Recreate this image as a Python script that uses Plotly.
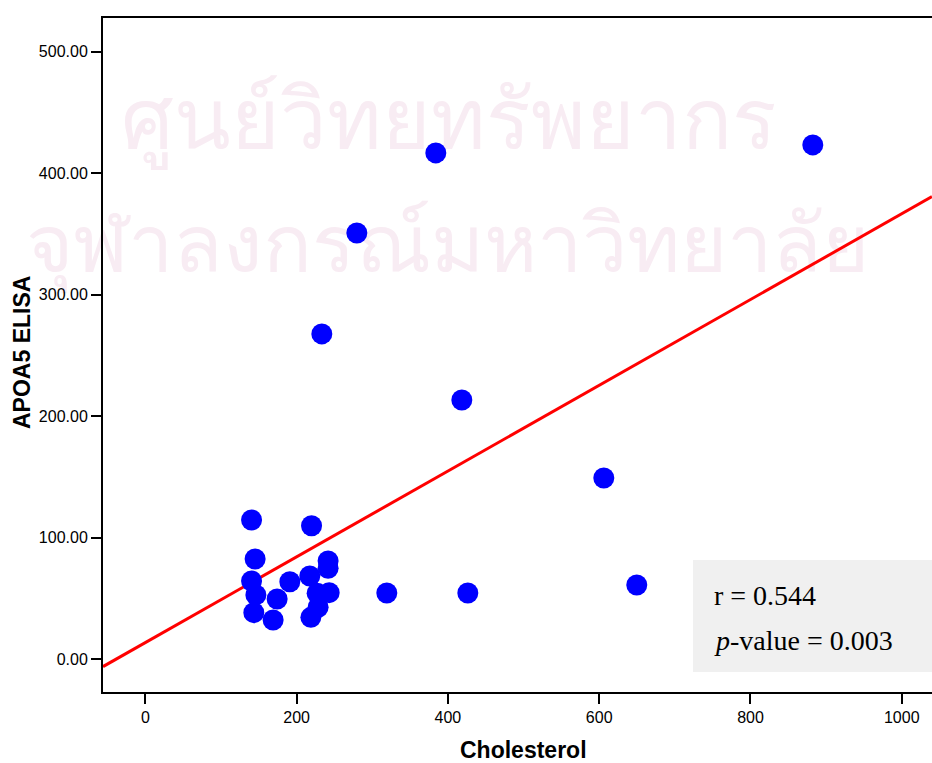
import plotly.graph_objects as go

# Data
cholesterol = [140.4, 219.7, 145.1, 140.4, 146.1, 143.4, 174.2, 168.9, 191.0, 217.4,
               241.6, 241.6, 227.1, 243.0, 228.4, 218.8,
               882.4, 384.0, 279.6, 233.3, 418.4, 606.1, 649.7, 319.2, 426.3]
apoa5 = [114.4, 109.7, 82.3, 64.2, 52.7, 38.1, 49.4, 32.1, 63.6, 68.3,
         80.7, 74.7, 54.1, 54.6, 42.6, 34.3,
         423.2, 416.6, 350.7, 267.6, 213.2, 149.0, 60.9, 54.3, 54.3]

fit_intercept = 13.5
fit_slope = 0.353
x_range = [-56, 1040]
y_range = [-27.2, 527.7]

x_ticks = [0, 200, 400, 600, 800, 1000]
y_ticks = [0, 100, 200, 300, 400, 500]
y_tick_text = ["0.00", "100.00", "200.00", "300.00", "400.00", "500.00"]

stats_lines = ["r = 0.544", "<i>p</i>-value = 0.003"]
watermark = ["ศูนย์วิทยทรัพยากร", "จุฬาลงกรณ์มหาวิทยาลัย"]

fig = go.Figure()

# faint watermark (behind the data)
fig.add_trace(go.Scatter(
    x=[401, 400], y=[437.5, 335.5], mode="text", text=watermark,
    textfont=dict(family="Noto Sans, DejaVu Sans, sans-serif", size=[83, 81], color="#f8ecf3"),
    cliponaxis=False, hoverinfo="skip", showlegend=False))

fig.add_trace(go.Scatter(
    x=x_range, y=[fit_intercept + fit_slope * v for v in x_range],
    mode="lines", line=dict(color="#ff0000", width=3), showlegend=False))

fig.add_trace(go.Scatter(
    x=cholesterol, y=apoa5, mode="markers",
    marker=dict(color="#0000ff", size=21, line=dict(width=0)), showlegend=False))

axis_common = dict(showgrid=False, zeroline=False, showline=True, linecolor="black",
                   linewidth=2, ticks="outside", ticklen=10, tickwidth=2, tickcolor="black",
                   tickfont=dict(family="Arial, Liberation Sans, sans-serif", size=16, color="black"))

fig.update_xaxes(range=x_range, tickvals=x_ticks, ticktext=[str(t) for t in x_ticks],
                 mirror=True, **axis_common)
fig.update_yaxes(range=y_range, tickvals=y_ticks, ticktext=y_tick_text, **axis_common)

# stats box
fig.add_shape(type="rect", xref="paper", yref="paper",
              x0=(693 - 103) / 829, x1=1.02, y0=(692 - 672) / 674, y1=(692 - 560) / 674,
              fillcolor="#f0f0f0", line=dict(width=0), layer="above")

fig.add_annotation(xref="paper", yref="paper", x=(712 - 103) / 829, y=(692 - 595) / 674,
                   text=stats_lines[0], showarrow=False, xanchor="left", yanchor="middle",
                   font=dict(family="Times New Roman, Liberation Serif, serif", size=28, color="black"))
fig.add_annotation(xref="paper", yref="paper", x=(712 - 103) / 829, y=(692 - 640) / 674,
                   text=stats_lines[1], showarrow=False, xanchor="left", yanchor="middle",
                   font=dict(family="Times New Roman, Liberation Serif, serif", size=28, color="black"))

# axis titles
fig.add_annotation(xref="paper", yref="paper", x=(523 - 103) / 829, y=(692 - 750) / 674,
                   text="<b>Cholesterol</b>", showarrow=False, xanchor="center", yanchor="middle",
                   font=dict(family="Arial, Liberation Sans, sans-serif", size=23, color="black"))
fig.add_annotation(xref="paper", yref="paper", x=(22 - 103) / 829, y=(692 - 353) / 674,
                   text="<b>APOA5 ELISA</b>", showarrow=False, xanchor="center", yanchor="middle",
                   textangle=-90,
                   font=dict(family="Arial, Liberation Sans, sans-serif", size=23, color="black"))

fig.update_layout(width=932, height=763, margin=dict(l=103, r=0, t=18, b=71),
                  plot_bgcolor="white", paper_bgcolor="white")

fig.write_html("out.html")
